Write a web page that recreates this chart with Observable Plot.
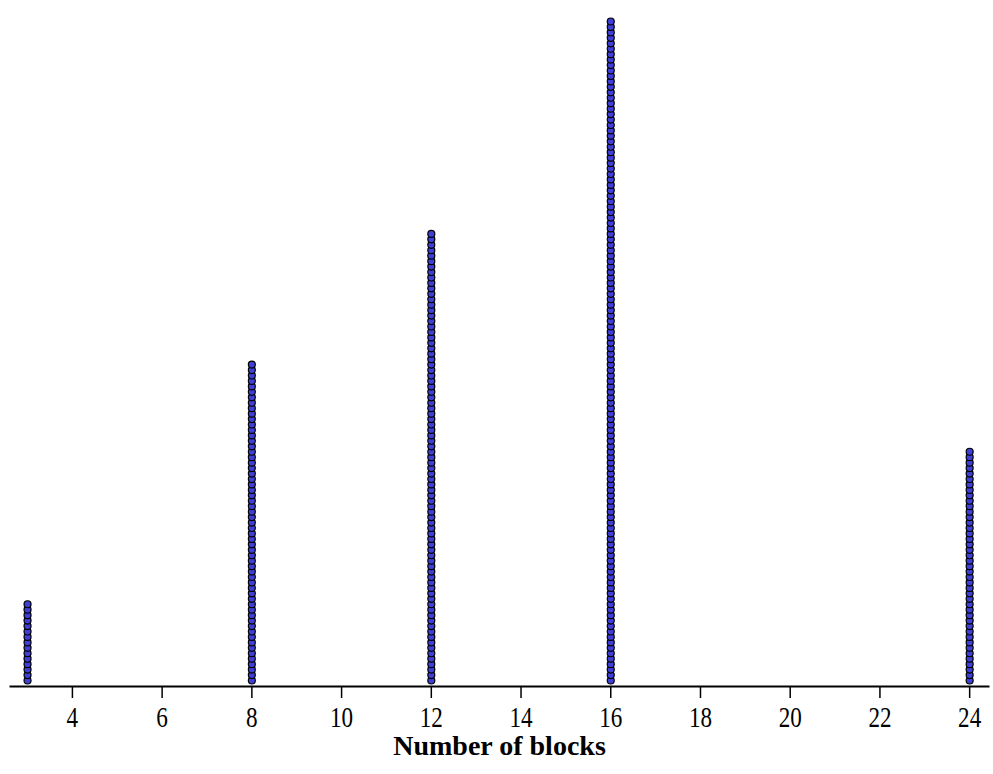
<!DOCTYPE html>
<html>
<head>
<meta charset="utf-8">
<script src="https://cdn.jsdelivr.net/npm/d3@7"></script>
<script src="https://cdn.jsdelivr.net/npm/@observablehq/plot@0.6"></script>
<style>
  html, body { margin: 0; padding: 0; background: #fff; }
</style>
</head>
<body>
<div id="chart"></div>
<script>
const blocks = [3, 8, 12, 16, 24];
const counts = [15, 59, 83, 122, 43];
const xTicks = [4, 6, 8, 10, 12, 14, 16, 18, 20, 22, 24];
const xLabel = "Number of blocks";

const dots = [];
blocks.forEach((b, i) => {
  for (let k = 0; k < counts[i]; k++) dots.push({blocks: b, stack: k});
});

const chart = Plot.plot({
  width: 993,
  height: 774,
  marginLeft: 10,
  marginRight: 5,
  marginTop: 0,
  marginBottom: 88,
  style: {fontFamily: "'Liberation Serif', 'Times New Roman', serif", background: "#fff"},
  x: {domain: [2.62, 24.42]},
  y: {domain: [0, 121], range: [680, 21], axis: null},
  marks: [
    Plot.frame({anchor: "bottom", stroke: "#000", strokeWidth: 2}),
    Plot.axisX({
      ticks: xTicks,
      tickSize: 12,
      tickFormat: () => "",
      stroke: "#000",
      strokeWidth: 1.5,
      label: null
    }),
    Plot.text(xTicks, {
      x: d => d,
      frameAnchor: "bottom",
      dy: 40,
      fontSize: 30,
      fill: "#000"
    }),
    Plot.text([xLabel], {
      frameAnchor: "bottom",
      dy: 68,
      fontSize: 28,
      fontWeight: "bold",
      fill: "#000"
    }),
    Plot.dot(dots, {
      x: "blocks",
      y: "stack",
      r: 3.5,
      fill: "#3f3fd8",
      stroke: "#000",
      strokeWidth: 1.2
    })
  ]
});
document.getElementById("chart").appendChild(chart);
// condense tick labels horizontally to match the narrow serif digits
const tickStrings = new Set(xTicks.map(String));
chart.querySelectorAll("text").forEach(t => {
  if (!tickStrings.has(t.textContent.trim())) return;
  const w = t.getComputedTextLength();
  if (w > 0) {
    t.setAttribute("textLength", (w * 0.77).toFixed(1));
    t.setAttribute("lengthAdjust", "spacingAndGlyphs");
  }
});
</script>
</body>
</html>
